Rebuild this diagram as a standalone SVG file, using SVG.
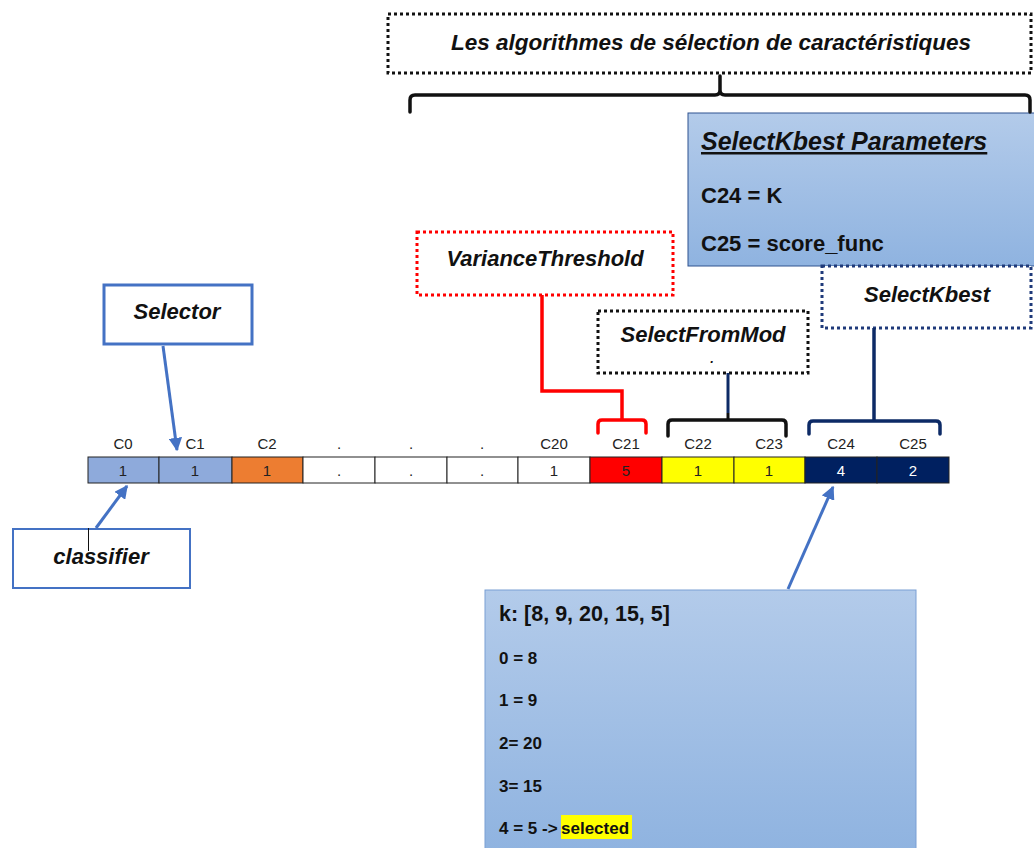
<svg xmlns="http://www.w3.org/2000/svg" width="1034" height="848" viewBox="0 0 1034 848">
  <defs>
    <linearGradient id="blueFill" x1="0" y1="0" x2="0" y2="1">
      <stop offset="0" stop-color="#b3cbea"/>
      <stop offset="1" stop-color="#8fb3e0"/>
    </linearGradient>
    <marker id="arrowBlue" viewBox="0 0 10 10" refX="9" refY="5" markerWidth="4.5" markerHeight="4.5" orient="auto-start-reverse">
      <path d="M0,0 L10,5 L0,10 z" fill="#4472c4"/>
    </marker>
    <style>
      .lbl { font-family: "Liberation Sans", Arial, sans-serif; font-weight: bold; font-style: italic; fill: #111; text-anchor: middle; font-size: 22px; }
      .title { font-weight: 600; font-size: 22.5px; }
      .txt { font-family: "Liberation Sans", Arial, sans-serif; font-weight: bold; fill: #111; }
      .cell { font-family: "Liberation Sans", Arial, sans-serif; font-size: 15px; fill: #222; text-anchor: middle; }
      .cell.inv { fill: #fff; }
      .dot { fill: #fff; stroke-width: 3; stroke-dasharray: 3 3; }
      .plain { fill: #fff; stroke: #4472c4; }
      .cbox { stroke: #222; stroke-width: 1; }
      .brace { fill: none; stroke-width: 3.5; stroke-linejoin: round; stroke-linecap: round; }
    </style>
  </defs>

  <rect width="1034" height="848" fill="#fff"/>

  <!-- title box -->
  <g id="title">
    <rect x="388" y="14" width="643" height="59" class="dot" stroke="#111"/>
    <text x="711" y="50" class="lbl title">Les algorithmes de sélection de caractéristiques</text>
  </g>

  <!-- SelectKbest parameters panel -->
  <g id="params">
    <rect x="688" y="113" width="350" height="153" fill="url(#blueFill)" stroke="#2f528f" stroke-width="1"/>
    <text x="701" y="150" class="txt" font-size="25" font-style="italic" text-decoration="underline">SelectKbest Parameters</text>
    <text x="701" y="203" class="txt" font-size="22">C24 = K</text>
    <text x="701" y="251" class="txt" font-size="22">C25 = score_func</text>
  </g>

  <g id="selectkbest">
    <rect x="822" y="266" width="209" height="62" class="dot" stroke="#1f3a7a"/>
    <text x="927" y="302" class="lbl">SelectKbest</text>
  </g>

  <g id="variance">
    <rect x="417" y="232" width="256" height="63" class="dot" stroke="#ff0000"/>
    <text x="545" y="266" class="lbl">VarianceThreshold</text>
  </g>

  <g id="selectfrommodel">
    <rect x="598" y="311" width="210" height="62" class="dot" stroke="#111"/>
    <text x="703" y="342" class="lbl">SelectFromMod<tspan x="712" dy="21" font-size="13">.</tspan></text>
  </g>

  <g id="selector">
    <rect x="104" y="285" width="148" height="59" class="plain" stroke-width="3"/>
    <text x="177" y="319" class="lbl">Selector</text>
  </g>

  <g id="classifier">
    <rect x="13" y="529" width="177" height="59" class="plain" stroke-width="2"/>
    <text x="101" y="564" class="lbl">classifier</text>
  </g>

  <g id="kbox">
    <rect x="485" y="590" width="431" height="262" fill="url(#blueFill)" stroke="#7a9fd4" stroke-width="1"/>
    <rect x="561" y="815" width="71" height="24" fill="#ffff00"/>
    <text x="499" y="621" class="txt" font-size="21.5">k: [8, 9, 20, 15, 5]</text>
    <text x="499" y="664" class="txt" font-size="17">0 = 8</text>
    <text x="499" y="706" class="txt" font-size="17">1 = 9</text>
    <text x="499" y="749" class="txt" font-size="17">2= 20</text>
    <text x="499" y="792" class="txt" font-size="17">3= 15</text>
    <text x="499" y="834" class="txt" font-size="17">4 = 5 -&gt;<tspan x="561">selected</tspan></text>
  </g>

  <!-- feature vector -->
  <g id="vector">
    <rect x="88" y="457" width="71" height="26" fill="#8eaadb" class="cbox"/>
    <rect x="159" y="457" width="73" height="26" fill="#8eaadb" class="cbox"/>
    <rect x="232" y="457" width="71" height="26" fill="#ed7d31" class="cbox"/>
    <rect x="303" y="457" width="72" height="26" fill="#fff" class="cbox"/>
    <rect x="375" y="457" width="72" height="26" fill="#fff" class="cbox"/>
    <rect x="447" y="457" width="71" height="26" fill="#fff" class="cbox"/>
    <rect x="518" y="457" width="72" height="26" fill="#fff" class="cbox"/>
    <rect x="590" y="457" width="72" height="26" fill="#ff0000" class="cbox"/>
    <rect x="662" y="457" width="72" height="26" fill="#ffff00" class="cbox"/>
    <rect x="734" y="457" width="71" height="26" fill="#ffff00" class="cbox"/>
    <rect x="805" y="457" width="72" height="26" fill="#002060" class="cbox"/>
    <rect x="877" y="457" width="72" height="26" fill="#002060" class="cbox"/>

    <text x="123" y="476" class="cell">1</text>
    <text x="195" y="476" class="cell">1</text>
    <text x="267" y="476" class="cell">1</text>
    <text x="339" y="476" class="cell">.</text>
    <text x="411" y="476" class="cell">.</text>
    <text x="482" y="476" class="cell">.</text>
    <text x="554" y="476" class="cell">1</text>
    <text x="626" y="476" class="cell">5</text>
    <text x="698" y="476" class="cell">1</text>
    <text x="769" y="476" class="cell">1</text>
    <text x="841" y="476" class="cell inv">4</text>
    <text x="913" y="476" class="cell inv">2</text>

    <text x="123" y="449" class="cell">C0</text>
    <text x="195" y="449" class="cell">C1</text>
    <text x="267" y="449" class="cell">C2</text>
    <text x="339" y="449" class="cell">.</text>
    <text x="411" y="449" class="cell">.</text>
    <text x="482" y="449" class="cell">.</text>
    <text x="554" y="449" class="cell">C20</text>
    <text x="626" y="449" class="cell">C21</text>
    <text x="698" y="449" class="cell">C22</text>
    <text x="769" y="449" class="cell">C23</text>
    <text x="841" y="449" class="cell">C24</text>
    <text x="913" y="449" class="cell">C25</text>
  </g>

  <!-- connectors -->
  <g id="connectors">
    <!-- main brace under the title -->
    <path d="M410,112 L410,100 Q410,95 415,95 L715,95 Q720,95 720,90 L720,76 M720,90 Q720,95 725,95 L1025,95 Q1030,95 1030,100 L1030,112" class="brace" stroke="#111"/>

    <!-- VarianceThreshold to C21 -->
    <path d="M542,295 L542,391 L622,391 L622,420" fill="none" stroke="#ff0000" stroke-width="3.5"/>
    <path d="M598,433 L598,424 Q598,420 602,420 L642,420 Q646,420 646,424 L646,433" class="brace" stroke="#ff0000"/>

    <!-- SelectFromModel to C22-C23 -->
    <path d="M728,373 L728,413" fill="none" stroke="#0d2a66" stroke-width="3"/>
    <path d="M728,413 L728,420" fill="none" stroke="#111" stroke-width="3"/>
    <path d="M668,436 L668,424 Q668,420 672,420 L782,420 Q786,420 786,424 L786,436" class="brace" stroke="#111"/>

    <!-- SelectKbest to C24-C25 -->
    <path d="M874,328 L874,421" fill="none" stroke="#0d2a66" stroke-width="3.5"/>
    <path d="M809,434 L809,425 Q809,421 813,421 L936,421 Q940,421 940,425 L940,434" class="brace" stroke="#0d2a66"/>

    <!-- blue arrows -->
    <line x1="163" y1="346" x2="177" y2="450" stroke="#4472c4" stroke-width="3" marker-end="url(#arrowBlue)"/>
    <line x1="96" y1="528" x2="127" y2="486" stroke="#4472c4" stroke-width="3" marker-end="url(#arrowBlue)"/>
    <line x1="788" y1="589" x2="833" y2="487" stroke="#4472c4" stroke-width="3" marker-end="url(#arrowBlue)"/>
    <line x1="88.5" y1="528" x2="88.5" y2="551" stroke="#111" stroke-width="1"/>
  </g>
</svg>
